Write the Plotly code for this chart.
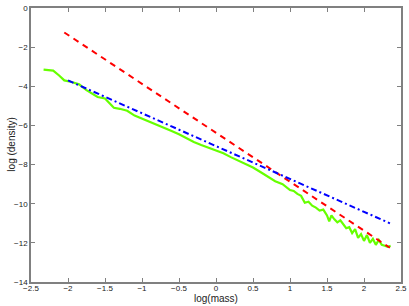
import plotly.graph_objects as go

# Green measured curve
green_x = [-2.33, -2.2, -2.12, -2.05, -1.95, -1.85, -1.75, -1.6, -1.5, -1.45, -1.38, -1.3,
           -1.2, -1.1, -1.0, -0.9, -0.8, -0.7, -0.6, -0.5, -0.4, -0.3, -0.2, -0.1, 0.0,
           0.1, 0.2, 0.3, 0.4, 0.5, 0.6, 0.7, 0.8, 0.9, 1.0, 1.05, 1.1, 1.15, 1.2, 1.25,
           1.3, 1.35, 1.4, 1.45, 1.5, 1.53, 1.56, 1.6, 1.64, 1.68, 1.72, 1.76, 1.8, 1.84,
           1.88, 1.92, 1.96, 2.0, 2.04, 2.08, 2.12, 2.16, 2.2, 2.24, 2.28, 2.32, 2.36]
green_y = [-3.15, -3.2, -3.45, -3.7, -3.78, -3.9, -4.2, -4.55, -4.62, -4.8, -5.1, -5.15,
           -5.25, -5.5, -5.65, -5.8, -5.95, -6.1, -6.28, -6.45, -6.65, -6.85, -7.0, -7.15, -7.3,
           -7.42, -7.62, -7.8, -7.95, -8.15, -8.38, -8.62, -8.85, -9.0, -9.3, -9.35, -9.5, -9.6, -9.95, -9.9,
           -10.1, -10.2, -10.35, -10.3, -10.6, -10.9, -10.6, -10.8, -10.95, -10.85, -11.05, -11.25, -11.2, -11.5,
           -11.3, -11.75, -11.55, -11.9, -11.6, -12.0, -11.8, -12.1, -11.85, -12.1, -12.15, -12.2, -12.15]

# Red dashed fit
red_x = [-2.05, 2.35]
red_y = [-1.25, -12.25]

# Blue dash-dot fit
blue_x = [-2.0, 2.35]
blue_y = [-3.7, -11.0]

x_ticks = [-2.5, -2, -1.5, -1, -0.5, 0, 0.5, 1, 1.5, 2, 2.5]
y_ticks = [0, -2, -4, -6, -8, -10, -12, -14]

fig = go.Figure()
fig.add_trace(go.Scatter(x=green_x, y=green_y, mode="lines",
                         line=dict(color="#66ff00", width=2.2)))
fig.add_trace(go.Scatter(x=red_x, y=red_y, mode="lines",
                         line=dict(color="#ff0000", width=2, dash="6px,5px")))
fig.add_trace(go.Scatter(x=blue_x, y=blue_y, mode="lines",
                         line=dict(color="#0000ff", width=2, dash="6px,3px,2px,3px")))

axis_common = dict(showline=True, linecolor="#808080", linewidth=1.5, mirror="ticks",
                   ticks="inside", ticklen=4, tickcolor="#808080", showgrid=False,
                   zeroline=False, automargin=False, ticklabeloverflow="allow",
                   tickfont=dict(family="Liberation Sans, Arial", size=8, color="#222"))

fig.update_layout(
    width=409, height=306,
    margin=dict(l=31, r=8, t=8, b=24, autoexpand=False),
    paper_bgcolor="white", plot_bgcolor="white",
    showlegend=False,
    font=dict(family="Liberation Sans, Arial", color="#222"),
    xaxis=dict(range=[-2.5, 2.5], tickvals=x_ticks,
               ticktext=[("\u2212" + str(abs(v))) if v < 0 else str(v) for v in x_ticks],
               ticklabelstandoff=-2, **axis_common),
    yaxis=dict(range=[-14, 0], tickvals=y_ticks, **axis_common),
    annotations=[
        dict(text="log(mass)", xref="paper", yref="paper", x=0.5, y=-0.062,
             xanchor="center", yanchor="middle", showarrow=False, font=dict(size=10)),
        dict(text="log (density)", xref="paper", yref="paper", x=-0.055, y=0.5,
             xanchor="center", yanchor="middle", textangle=-90, showarrow=False,
             font=dict(size=10)),
    ],
)
fig.write_html("out.html", config={"displayModeBar": False},
               post_script="document.body.style.margin='0';document.body.style.overflow='hidden';")
